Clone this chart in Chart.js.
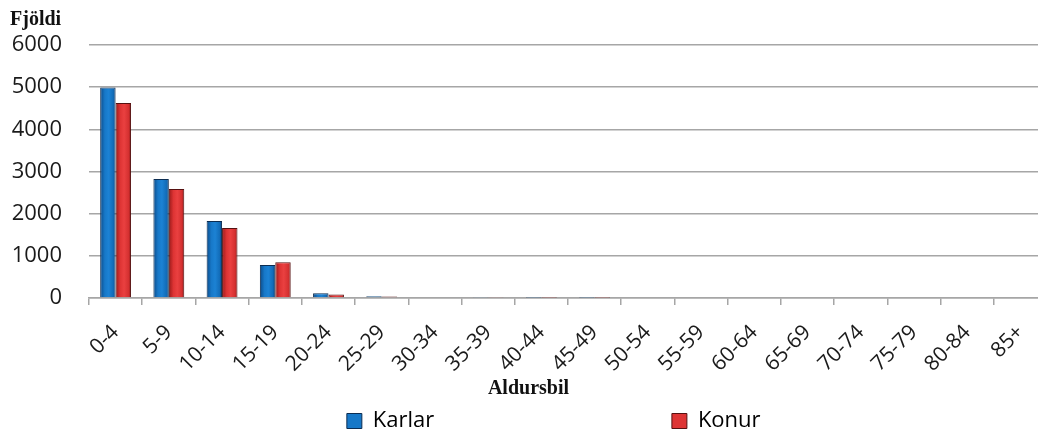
<!DOCTYPE html>
<html>
<head>
<meta charset="utf-8">
<script src="https://cdn.jsdelivr.net/npm/chart.js@4/dist/chart.umd.min.js"></script>
<style>
  html, body { margin: 0; padding: 0; background: #fff; overflow: hidden; }
  #wrap { width: 1060px; height: 430px; }
</style>
</head>
<body>
<div id="wrap"><canvas id="ageChart"></canvas></div>
<script>
const ageGroups = ["0-4", "5-9", "10-14", "15-19", "20-24", "25-29", "30-34", "35-39", "40-44",
  "45-49", "50-54", "55-59", "60-64", "65-69", "70-74", "75-79", "80-84", "85+"];
const karlar = [4990, 2820, 1825, 780, 110, 40, 15, 10, 8, 5, 0, 0, 0, 0, 0, 0, 0, 0];
const konur = [4625, 2585, 1660, 850, 85, 35, 15, 10, 8, 5, 0, 0, 0, 0, 0, 0, 0, 0];
const yTicks = [0, 1000, 2000, 3000, 4000, 5000, 6000];

const catPct = 0.58;
const gridGray = "#a6a6a6";

// horizontal shading so the bars get the old Excel 3D look
function barGradient(context, stops, fallback) {
  const chart = context.chart;
  const xs = chart.scales.x;
  if (!xs || context.dataIndex === undefined) return fallback;
  const center = xs.getPixelForValue(context.dataIndex);
  const barW = (xs.width / ageGroups.length) * catPct / 2;
  const left = context.datasetIndex === 0 ? center - barW : center;
  const g = chart.ctx.createLinearGradient(left, 0, left + barW, 0);
  stops.forEach(s => g.addColorStop(s[0], s[1]));
  return g;
}

const blueStops = [[0, "#0b4a88"], [0.3, "#1778c8"], [0.55, "#1c82d4"], [0.85, "#126cb8"], [1, "#0a3f78"]];
const redStops = [[0, "#9a1a1a"], [0.3, "#de3434"], [0.55, "#ea4040"], [0.85, "#d43030"], [1, "#8e1616"]];

new Chart(document.getElementById("ageChart"), {
  type: "bar",
  data: {
    labels: ageGroups,
    datasets: [
      {
        label: "Karlar",
        data: karlar,
        backgroundColor: ctx => barGradient(ctx, blueStops, "#1778c8"),
        borderColor: "#0c2d52",
        borderWidth: 1,
        categoryPercentage: catPct,
        barPercentage: 1
      },
      {
        label: "Konur",
        data: konur,
        backgroundColor: ctx => barGradient(ctx, redStops, "#de3434"),
        borderColor: "#561010",
        borderWidth: 1,
        categoryPercentage: catPct,
        barPercentage: 1
      }
    ]
  },
  options: {
    responsive: true,
    maintainAspectRatio: false,
    animation: false,
    layout: { padding: { left: 10, right: 13, top: 0, bottom: 0 } },
    plugins: {
      title: {
        display: true,
        text: "Fjöldi",
        align: "start",
        color: "#111",
        font: { family: "Liberation Serif", size: 20, weight: "bold", lineHeight: 1.2 },
        padding: { top: 8, bottom: 13 }
      },
      subtitle: {
        display: true,
        position: "bottom",
        weight: 500,
        text: "Aldursbil",
        color: "#111",
        font: { family: "Liberation Serif", size: 20, weight: "bold", lineHeight: 1.2 },
        padding: { top: 0, bottom: 0 }
      },
      legend: {
        position: "bottom",
        fullSize: false,
        maxHeight: 29,
        labels: {
          color: "#222",
          font: { family: "Open Sans", size: 22 },
          boxWidth: 15,
          boxHeight: 15,
          padding: 9,
          generateLabels: chart => [
            { text: "Karlar" + " ".repeat(40), fillStyle: "#1778c8", strokeStyle: "#0c2d52", lineWidth: 1, datasetIndex: 0 },
            { text: "Konur" + " ".repeat(5), fillStyle: "#de3434", strokeStyle: "#561010", lineWidth: 1, datasetIndex: 1 }
          ]
        }
      },
      tooltip: { enabled: false }
    },
    scales: {
      x: {
        offset: true,
        afterFit: scale => {
          // keep the first rotated label from pushing the plot right, fixed band height
          scale.paddingLeft = 0;
          scale.paddingRight = 0;
          scale.height = 79;
        },
        grid: {
          offset: true,
          drawOnChartArea: false,
          drawTicks: true,
          tickLength: 7,
          color: gridGray,
          lineWidth: 1.5
        },
        border: { display: true, color: gridGray, width: 1.5 },
        ticks: {
          autoSkip: false,
          maxRotation: 45,
          minRotation: 45,
          padding: 15,
          color: "#1a1a1a",
          font: { family: "Open Sans", size: 21 }
        }
      },
      y: {
        min: 0,
        max: 6000,
        afterBuildTicks: axis => { axis.ticks = yTicks.map(v => ({ value: v })); },
        afterFit: scale => { scale.width = 79; },
        grid: { color: gridGray, lineWidth: 1.5, drawTicks: false },
        border: { display: false },
        ticks: {
          padding: 27,
          color: "#1a1a1a",
          font: { family: "Open Sans", size: 22 },
          callback: value => String(value)
        }
      }
    }
  }
});
</script>
</body>
</html>
